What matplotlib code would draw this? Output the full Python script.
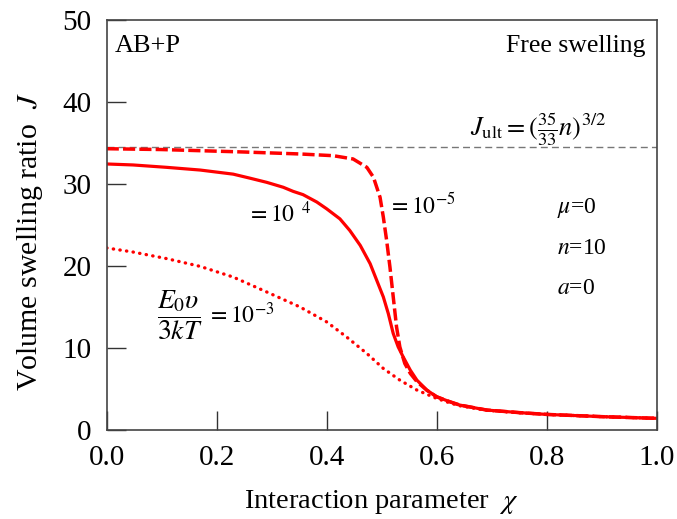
import matplotlib
matplotlib.use("Agg")
import matplotlib.pyplot as plt

plt.rcParams['font.family'] = ['Liberation Serif', 'DejaVu Serif']
plt.rcParams['mathtext.fontset'] = 'stix'

# Data
chi_4 = [0, 0.048, 0.109, 0.17, 0.23, 0.261, 0.291, 0.321, 0.339, 0.357, 0.382, 0.40,
         0.424, 0.442, 0.461, 0.479, 0.491, 0.503, 0.512, 0.521, 0.530, 0.539, 0.552,
         0.564, 0.582, 0.60, 0.624, 0.642, 0.691, 0.75, 0.80, 0.903, 1.0]
J_4 = [32.44, 32.32, 32.03, 31.7, 31.2, 30.7, 30.2, 29.6, 29.1, 28.7, 27.8, 26.97,
       25.75, 24.33, 22.51, 20.28, 18.25, 16.22, 14.2, 11.76, 10.13, 8.92, 7.3,
       6.08, 4.87, 4.05, 3.44, 3.04, 2.43, 2.12, 1.9, 1.62, 1.42]

chi_5 = [0, 0.1, 0.17, 0.25, 0.3515, 0.412, 0.448, 0.473, 0.485, 0.497, 0.503, 0.509,
         0.515, 0.521, 0.527, 0.533, 0.542, 0.552, 0.564, 0.582, 0.60, 0.624, 0.642,
         0.691, 0.75, 0.80, 0.903, 1.0]
J_5 = [34.3, 34.2, 34.06, 33.9, 33.66, 33.45, 33.05, 32.03, 30.82, 28.38, 25.95, 23.11,
       19.87, 16.22, 12.57, 10.13, 8.11, 6.9, 5.9, 4.85, 4.05, 3.44, 3.04,
       2.43, 2.12, 1.9, 1.62, 1.42]

chi_3 = [0, 0.048, 0.109, 0.17, 0.23, 0.291, 0.3515, 0.40, 0.436, 0.473, 0.503, 0.533,
         0.564, 0.60, 0.624, 0.642, 0.691, 0.75, 0.80, 0.903, 1.0]
J_3 = [22.2, 21.7, 20.9, 19.95, 18.65, 16.83, 15.0, 13.18, 11.35, 9.33, 7.5, 6.08,
       4.87, 3.85, 3.3, 2.95, 2.4, 2.1, 1.9, 1.62, 1.42]

n_val = 10
J_ult = (35.0 / 33.0 * n_val) ** 1.5

x_ticks = [0.0, 0.2, 0.4, 0.6, 0.8, 1.0]
y_ticks = [0, 10, 20, 30, 40, 50]

fig = plt.figure(figsize=(6.77, 5.19), dpi=100)
ax = fig.add_axes([0.1576, 0.1715, 0.8124, 0.79])

red = '#ff0000'
ax.axhline(J_ult, color='#777777', lw=1.0, linestyle=(0, (5, 3)))
ax.plot(chi_5, J_5, color=red, lw=2.5, linestyle=(0, (3.5, 1.2)))
ax.plot(chi_4, J_4, color=red, lw=2.3, linestyle='-')
ax.plot(chi_3, J_3, color=red, lw=2.4, linestyle=(0, (0.1, 1.9)), dash_capstyle='round')

ax.set_xlim(0, 1)
ax.set_ylim(0, 50)
ax.set_xticks(x_ticks)
ax.set_xticklabels([f"{v:.1f}" for v in x_ticks])
ax.set_yticks(y_ticks)
ax.set_yticklabels([str(v) for v in y_ticks])
ax.tick_params(axis='both', direction='in', length=14, width=1.0, color='#333333',
               labelsize=21, pad=11)
for s in ax.spines.values():
    s.set_color('#444444')
    s.set_linewidth(1.2)

ax.set_xlabel(r"Interaction parameter  $\chi$", fontsize=20.5, labelpad=12)
ax.set_ylabel(r"Volume swelling ratio  $J$", fontsize=21.5)
ax.yaxis.set_label_coords(-0.113, 0.46)

ax.text(0.015, 46.8, "AB+P", fontsize=19, ha='left', va='center')
ax.text(0.979, 46.8, "Free swelling", fontsize=18.5, ha='right', va='center')
ax.text(0.66, 36.6, r"$J_{\mathrm{ult}}=(\frac{35}{33}n)^{3/2}$", fontsize=19,
        ha='left', va='center')
ax.text(0.512, 27.4, r"$=10^{-5}$", fontsize=17, ha='left', va='center')
ax.text(0.256, 26.3, r"$=10^{\ \ 4}$", fontsize=17, ha='left', va='center')
ax.text(0.091, 14.0, r"$\dfrac{E_0\upsilon}{3kT}$", fontsize=20,
        ha='left', va='center')
ax.text(0.182, 14.0, r"$=10^{-3}$", fontsize=17, ha='left', va='center')
ax.text(0.819, 27.1, r"$\mu$=0", fontsize=17, ha='left', va='center')
ax.text(0.819, 22.1, r"$n$=10", fontsize=17, ha='left', va='center')
ax.text(0.819, 17.3, r"$a$=0", fontsize=17, ha='left', va='center')

fig.savefig("out.png", dpi=100)
